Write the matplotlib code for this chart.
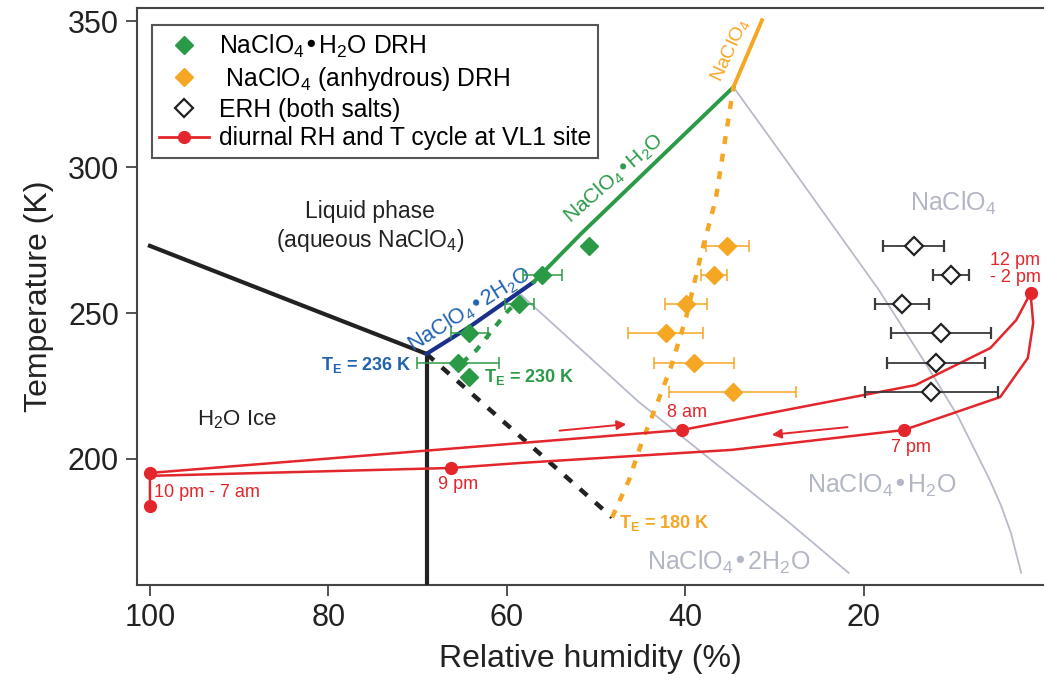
import matplotlib
matplotlib.use("Agg")
import matplotlib.pyplot as plt
from matplotlib.lines import Line2D

plt.rcParams['font.family'] = ['Liberation Sans', 'DejaVu Sans']
plt.rcParams['mathtext.default'] = 'regular'

green = '#2b9a47'
orange = '#f5a623'
navy = '#1b2f8c'
blue_txt = '#1f62b0'
red = '#e3262b'
grey = '#b7bbca'
grey_txt = '#b3b7c5'
dark = '#222222'

# phase boundaries, (RH %, T K)
ice_rh = [100.0, 84.7, 69.0]
ice_t = [273.0, 254.7, 236.0]
eut_rh = [69.0, 69.0]
eut_t = [236.0, 150.0]
meta_rh = [69.0, 48.2]
meta_t = [236.0, 180.0]
dihyd_rh = [69.0, 64.2, 57.0]
dihyd_t = [236.0, 245.2, 260.6]
mono_rh = [57.0, 51.6, 34.6]
mono_t = [260.6, 277.4, 327.4]
mono_dash_rh = [65.0, 63.4, 61.6, 60.0, 58.3]
mono_dash_t = [233.0, 237.3, 244.2, 250.3, 255.5]
anh_rh = [34.6, 31.4]
anh_t = [327.4, 350.3]
anh_dash_rh = [48.2, 46.3, 44.9, 43.3, 41.6, 39.9, 38.1, 36.6, 34.6]
anh_dash_t = [180.0, 192.8, 205.5, 217.8, 231.5, 248.6, 271.6, 288.7, 327.4]
g1_rh = [34.6, 29.5, 18.3, 13.1, 9.4, 5.9, 4.6, 3.5, 2.35]
g1_t = [327.4, 305.8, 257.9, 232.9, 214.4, 193.0, 184.0, 174.7, 161.0]
g2_rh = [58.4, 45.2, 38.5, 28.7, 21.7]
g2_t = [256.2, 219.5, 203.1, 179.1, 161.0]

# measured DRH / ERH
mono_drh_t = [273, 263, 253, 243, 233, 228]
mono_drh = [50.8, 56.0, 58.6, 64.2, 65.5, 64.2]
mono_err = [0, 2.2, 1.6, 2.1, 4.6, 0]
anh_drh_t = [273, 263, 253, 243, 233, 223]
anh_drh = [35.3, 36.8, 39.9, 42.2, 39.0, 34.7]
anh_err = [2.4, 1.45, 2.35, 4.2, 4.5, 7.1]
erh_t = [273, 263, 253, 243, 233, 223]
erh = [14.4, 10.2, 15.7, 11.3, 11.9, 12.4]
erh_err = [3.4, 2.0, 3.0, 5.6, 5.5, 7.4]

# diurnal cycle at VL1
day_rh = [100.0, 40.4, 14.2, 5.8, 2.9, 1.3]
day_t = [195.2, 209.9, 225.3, 238.0, 247.6, 256.8]
eve_rh = [1.3, 1.0, 1.6, 4.7, 15.5, 34.8, 58.6, 66.3, 100.0, 100.0]
eve_t = [256.8, 246.6, 234.6, 221.2, 209.9, 203.1, 198.6, 196.9, 194.2, 183.9]
mark_rh = [100.0, 100.0, 66.3, 40.4, 15.5, 1.3]
mark_t = [195.2, 183.9, 196.9, 209.9, 209.9, 256.8]

fig = plt.figure(figsize=(10.45, 6.92), dpi=100)
ax = fig.add_axes([0.1311, 0.1546, 0.867, 0.8338])

ax.plot(g1_rh, g1_t, color=grey, lw=1.3, zorder=1)
ax.plot(g2_rh, g2_t, color=grey, lw=1.3, zorder=1)

ax.plot(ice_rh, ice_t, color=dark, lw=3, zorder=3)
ax.plot(eut_rh, eut_t, color=dark, lw=3, zorder=3)
ax.plot(meta_rh, meta_t, color=dark, lw=3.2, ls=(0, (2.2, 2.4)), zorder=3)
ax.plot(dihyd_rh, dihyd_t, color=navy, lw=3, zorder=3)
ax.plot(mono_rh, mono_t, color=green, lw=2.8, zorder=3)
ax.plot(mono_dash_rh, mono_dash_t, color=green, lw=3, ls=(0, (1.8, 2.2)), zorder=3)
ax.plot(anh_rh, anh_t, color=orange, lw=2.8, zorder=3)
ax.plot(anh_dash_rh, anh_dash_t, color=orange, lw=3.2, ls=(0, (1.8, 2.2)), zorder=3)

# red diurnal cycle
ax.plot(day_rh, day_t, color=red, lw=1.8, zorder=4)
ax.plot(eve_rh, eve_t, color=red, lw=1.8, zorder=4)
ax.plot(mark_rh, mark_t, ls='none', marker='o', ms=8.5, color=red, zorder=5)
ax.annotate('', xy=(46.3, 212.0), xytext=(54.4, 209.6),
            arrowprops=dict(arrowstyle='-|>', color=red, lw=1.4, mutation_scale=14), zorder=5)
ax.annotate('', xy=(30.6, 208.2), xytext=(21.5, 211.0),
            arrowprops=dict(arrowstyle='-|>', color=red, lw=1.4, mutation_scale=14), zorder=5)

ax.errorbar(mono_drh, mono_drh_t, xerr=mono_err, fmt='D', ms=9, color=green,
            ecolor=green, elinewidth=1.1, capsize=4.5, capthick=1.1, zorder=6)
ax.errorbar(anh_drh, anh_drh_t, xerr=anh_err, fmt='D', ms=9, color=orange,
            ecolor=orange, elinewidth=1.1, capsize=4.5, capthick=1.1, zorder=6)
ax.errorbar(erh, erh_t, xerr=erh_err, fmt='D', ms=9, mfc='white', mec=dark, mew=1.6,
            ecolor='#3a3a3a', elinewidth=1.3, capsize=4.5, capthick=1.3, zorder=6)

# labels in the plot
ax.text(75.3, 279.5, 'Liquid phase\n(aqueous NaClO$_4$)', fontsize=16.5, color=dark,
        ha='center', va='center', linespacing=1.2)
ax.text(90.2, 213.4, 'H$_2$O Ice', fontsize=16, color=dark, ha='center', va='center')
ax.text(70.7, 232.2, 'T$_E$ = 236 K', fontsize=13, color=blue_txt, weight='bold',
        ha='right', va='center')
ax.text(62.6, 228.0, 'T$_E$ = 230 K', fontsize=13, color=green, weight='bold',
        ha='left', va='center')
ax.text(47.4, 178.2, 'T$_E$ = 180 K', fontsize=13, color=orange, weight='bold',
        ha='left', va='center')
ax.text(64.2, 251.0, 'NaClO$_4$•2H$_2$O', fontsize=15.5, color=blue_txt, rotation=32,
        ha='center', va='center', rotation_mode='anchor')
ax.text(48.0, 296.2, 'NaClO$_4$•H$_2$O', fontsize=15, color=green, rotation=41,
        ha='center', va='center', rotation_mode='anchor')
ax.text(34.9, 340.0, 'NaClO$_4$', fontsize=14, color=orange, rotation=65,
        ha='center', va='center', rotation_mode='anchor')
ax.text(10.0, 287.7, 'NaClO$_4$', fontsize=18, color=grey_txt, ha='center', va='center')
ax.text(18.0, 191.1, 'NaClO$_4$•H$_2$O', fontsize=18, color=grey_txt, ha='center', va='center')
ax.text(35.1, 164.7, 'NaClO$_4$•2H$_2$O', fontsize=18, color=grey_txt, ha='center', va='center')

ax.text(99.6, 188.4, '10 pm - 7 am', fontsize=13, color=red, ha='left', va='center')
ax.text(65.5, 191.1, '9 pm', fontsize=13, color=red, ha='center', va='center')
ax.text(39.8, 215.8, '8 am', fontsize=13, color=red, ha='center', va='center')
ax.text(14.7, 203.8, '7 pm', fontsize=13, color=red, ha='center', va='center')
ax.text(3.0, 265.0, '12 pm\n- 2 pm', fontsize=13, color=red, ha='center', va='center',
        linespacing=1.0)

handles = [Line2D([], [], ls='none', marker='D', ms=9, color=green),
           Line2D([], [], ls='none', marker='D', ms=9, color=orange),
           Line2D([], [], ls='none', marker='D', ms=9, mfc='white', mec=dark, mew=1.6),
           Line2D([], [], color=red, lw=2, marker='o', ms=8.5)]
labels = ['NaClO$_4$•H$_2$O DRH', ' NaClO$_4$ (anhydrous) DRH', 'ERH (both salts)',
          'diurnal RH and T cycle at VL1 site']
leg = ax.legend(handles, labels, loc='upper left', bbox_to_anchor=(0.0166, 0.9705),
                borderaxespad=0, fontsize=17.8, frameon=True, fancybox=False,
                edgecolor='#555555', framealpha=1, handlelength=2.0, handletextpad=0.4,
                labelspacing=0.2, borderpad=0.3)
leg.get_frame().set_linewidth(1.5)
leg.set_zorder(10)

ax.set_xlim(101.45, -0.1)
ax.set_ylim(156.8, 354.5)
ax.set_xticks([100, 80, 60, 40, 20])
ax.set_yticks([200, 250, 300, 350])
ax.tick_params(direction='out', length=8, width=1.3, color='#444444', labelsize=22,
               labelcolor=dark, pad=5)
for s in ['left', 'bottom', 'top']:
    ax.spines[s].set_color('#444444')
    ax.spines[s].set_linewidth(1.5)
ax.spines['right'].set_visible(False)
ax.set_xlabel('Relative humidity (%)', fontsize=23, color=dark, labelpad=8)
ax.set_ylabel('Temperature (K)', fontsize=23, color=dark, labelpad=10)

fig.savefig('out.png', dpi=100)
